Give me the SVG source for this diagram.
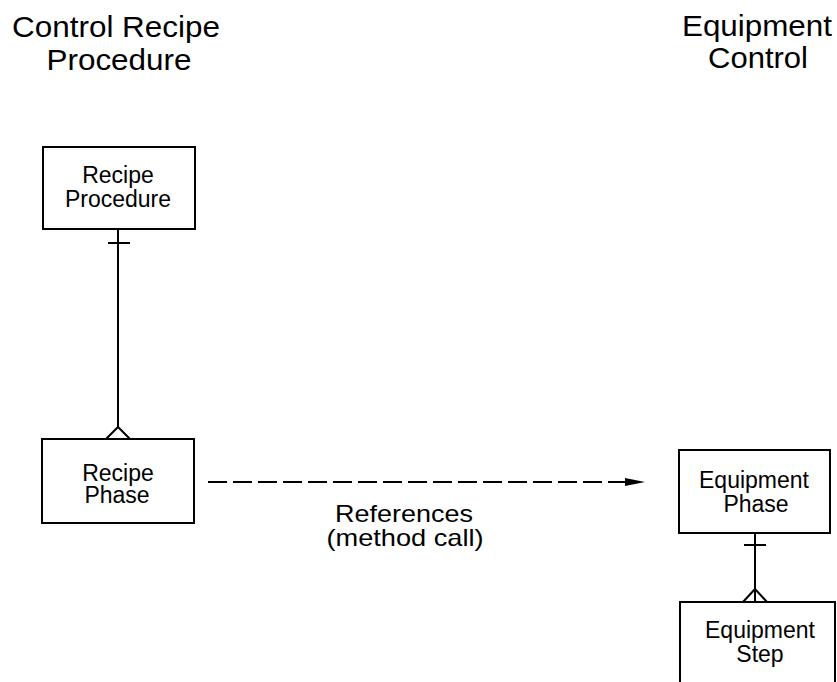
<svg xmlns="http://www.w3.org/2000/svg" width="837" height="682" viewBox="0 0 837 682">
<style>
.box{fill:#fff;stroke:#000;stroke-width:2}
.ln{fill:none;stroke:#000;stroke-width:2}
.dash{fill:none;stroke:#000;stroke-width:2;stroke-dasharray:19 6}
.t{font-family:"Liberation Sans",Arial,sans-serif;fill:#000;text-anchor:middle}
.title{font-size:30px}
.node{font-size:23px}
.lbl{font-size:24px}
</style>
<rect width="837" height="682" fill="#fff"/>
<g id="title-crp">
<text class="t title" x="116" y="37" textLength="208" lengthAdjust="spacingAndGlyphs">Control Recipe</text>
<text class="t title" x="119" y="70" textLength="145" lengthAdjust="spacingAndGlyphs">Procedure</text>
</g>
<g id="title-ec">
<text class="t title" x="757" y="36" textLength="150" lengthAdjust="spacingAndGlyphs">Equipment</text>
<text class="t title" x="758" y="68" textLength="100" lengthAdjust="spacingAndGlyphs">Control</text>
</g>
<g id="connectors">
<line class="ln" x1="118" y1="229" x2="118" y2="427"/>
<line class="ln" x1="108" y1="243" x2="130" y2="243"/>
<polyline class="ln" points="106,439 118,427 130,439"/>
<line class="ln" x1="755" y1="533" x2="755" y2="602"/>
<line class="ln" x1="744" y1="545" x2="766" y2="545"/>
<polyline class="ln" points="743,602 755,589 767,602"/>
<line class="dash" x1="208" y1="482" x2="626" y2="482"/>
<polygon points="625,478 645,482 625,486" fill="#000"/>
</g>
<g id="recipe-procedure">
<rect class="box" x="43" y="147" width="152" height="82"/>
<text class="t node" x="118" y="183">Recipe</text>
<text class="t node" x="118" y="207">Procedure</text>
</g>
<g id="recipe-phase">
<rect class="box" x="42" y="439" width="152" height="84"/>
<text class="t node" x="118" y="481">Recipe</text>
<text class="t node" x="117" y="503">Phase</text>
</g>
<g id="equipment-phase">
<rect class="box" x="679" y="450" width="151" height="83"/>
<text class="t node" x="754" y="488">Equipment</text>
<text class="t node" x="756" y="512">Phase</text>
</g>
<g id="equipment-step">
<rect class="box" x="680" y="602" width="155" height="100"/>
<text class="t node" x="760" y="638">Equipment</text>
<text class="t node" x="760" y="662">Step</text>
</g>
<g id="label-references">
<text class="t lbl" x="404" y="522" textLength="138" lengthAdjust="spacingAndGlyphs">References</text>
<text class="t lbl" x="405" y="546" textLength="157" lengthAdjust="spacingAndGlyphs">(method call)</text>
</g>
</svg>
